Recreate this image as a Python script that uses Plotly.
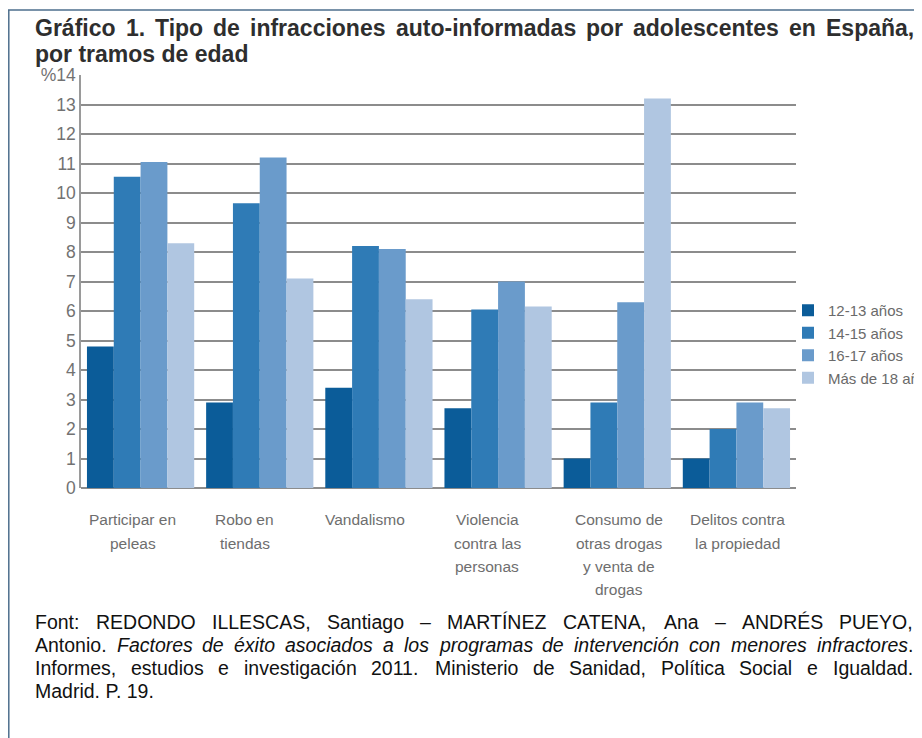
import re
import plotly.graph_objects as go

categories = ["Participar en<br>peleas", "Robo en<br>tiendas", "Vandalismo",
              "Violencia<br>contra las<br>personas",
              "Consumo de<br>otras drogas<br>y venta de<br>drogas",
              "Delitos contra<br>la propiedad"]
series_names = ["12-13 años", "14-15 años", "16-17 años", "Más de 18 años"]
v_12_13 = [4.8, 2.9, 3.4, 2.7, 1.0, 1.0]
v_14_15 = [10.55, 9.65, 8.2, 6.05, 2.9, 2.0]
v_16_17 = [11.05, 11.2, 8.1, 7.0, 6.3, 2.9]
v_18 = [8.3, 7.1, 6.4, 6.15, 13.2, 2.7]
series_values = [v_12_13, v_14_15, v_16_17, v_18]
colors = ["#0b5c99", "#2f7bb6", "#6a9bcb", "#b0c6e1"]
ytick_vals = list(range(0, 15))
ytick_text = [str(v) for v in range(0, 14)] + ["%14"]

title_lines = ["Gráfico 1. Tipo de infracciones auto-informadas por adolescentes en España,",
               "por tramos de edad"]
foot_lines = [
    "Font:  REDONDO ILLESCAS, Santiago – MARTÍNEZ CATENA, Ana – ANDRÉS PUEYO,",
    "Antonio. <i>Factores</i> <i>de</i> <i>éxito</i> <i>asociados</i> <i>a</i> <i>los</i> <i>programas</i> <i>de</i> <i>intervención</i> <i>con</i> <i>menores</i> <i>infractores</i>.",
    "Informes, estudios e investigación 2011. Ministerio de Sanidad, Política Social e Igualdad.",
    "Madrid. P. 19.",
]

# page is shown with an 8px body margin: work in reference pixels, convert
OFF = 8
W, H = 922 - OFF, 738 - OFF
L, R, T, B = 81 - OFF, 796 - OFF, 75 - OFF, 488 - OFF

def px(x):
    return (x - OFF - L) / (R - L)

def py(y):
    return (B - (y - OFF)) / (B - T)

fig = go.Figure()
for name, vals, col in zip(series_names, series_values, colors):
    fig.add_trace(go.Bar(x=categories, y=vals, name=name,
                         marker=dict(color=col, line=dict(width=0))))

fig.update_layout(
    width=W, height=H,
    margin=dict(l=L, r=W - R, t=T, b=H - B, autoexpand=False),
    paper_bgcolor="white", plot_bgcolor="white",
    barmode="group", bargap=0.1, bargroupgap=0,
    font=dict(family="Liberation Sans, Arial, sans-serif", color="#666666"),
    showlegend=True,
    legend=dict(x=px(788), y=py(294), xanchor="left", yanchor="top",
                font=dict(size=15, color="#6a6a6a"), tracegroupgap=0,
                itemwidth=30, bgcolor="rgba(0,0,0,0)"),
)
fig.update_yaxes(range=[0, 14], tickvals=ytick_vals, ticktext=ytick_text,
                 showgrid=True, gridcolor="#8c8c8c", gridwidth=1.5,
                 showline=True, linecolor="#9a9a9a", linewidth=1.5,
                 zeroline=True, zerolinecolor="#8c8c8c", zerolinewidth=1.5,
                 ticks="", ticklabelstandoff=0,
                 tickfont=dict(size=17.5, color="#727272"))
fig.update_xaxes(showgrid=False, showline=False, ticks="", showticklabels=False)

# category labels (one annotation per text line for the original line spacing)
label_xshift = [-8, -15, -14, -11, 2, 1]
for cat, dx in zip(categories, label_xshift):
    for i, part in enumerate(cat.split("<br>")):
        fig.add_annotation(text=part, xref="x", yref="paper", x=cat, y=py(520 + 23 * i),
                           xanchor="center", yanchor="middle", showarrow=False, xshift=dx,
                           font=dict(size=15.5, color="#6e6e6e"))

# Arial / Liberation Sans advance widths (per 1000 em) for justification
AW = {}
AW.update(dict(zip("abcdefghijklmnopqrstuvwxyz",
                   [556, 556, 500, 556, 556, 278, 556, 556, 222, 222, 500, 222, 833,
                    556, 556, 556, 556, 333, 500, 278, 556, 500, 722, 500, 500, 500])))
AW.update(dict(zip("ABCDEFGHIJKLMNOPQRSTUVWXYZ",
                   [667, 667, 722, 722, 667, 611, 778, 722, 278, 500, 667, 556, 833,
                    722, 778, 667, 778, 722, 667, 611, 722, 667, 944, 667, 667, 611])))
AW.update({c: 556 for c in "0123456789"})
AW.update({" ": 278, ",": 278, ".": 278, ":": 278, "–": 556, "-": 333,
           "á": 556, "é": 556, "í": 278, "ó": 556, "ñ": 556, "Í": 278, "É": 667})
BW = {}
BW.update(dict(zip("abcdefghijklmnopqrstuvwxyz",
                   [556, 611, 556, 611, 556, 333, 611, 611, 278, 278, 556, 278, 889,
                    611, 611, 611, 611, 389, 556, 333, 611, 556, 778, 556, 556, 500])))
BW.update(dict(zip("ABCDEFGHIJKLMNOPQRSTUVWXYZ",
                   [722, 722, 722, 722, 667, 611, 778, 722, 278, 556, 722, 611, 833,
                    722, 778, 667, 778, 722, 667, 611, 722, 667, 944, 667, 667, 611])))
BW.update({c: 556 for c in "0123456789"})
BW.update({" ": 278, ",": 278, ".": 278, ":": 333, "-": 333,
           "á": 556, "é": 556, "í": 278, "ó": 611, "ñ": 611})

def text_w(s, table, size):
    s = re.sub(r"<[^>]+>", "", s)
    return sum(table.get(c, 556) for c in s) * size / 1000.0

def justify(line, yy, x0, x1, table, size, font, bold=False):
    words = line.split()
    total = sum(text_w(w, table, size) for w in words)
    gap = (x1 - x0 - total) / (len(words) - 1)
    x = x0
    for w in words:
        fig.add_annotation(text=("<b>%s</b>" % w) if bold else w, xref="paper", yref="paper",
                           x=px(x), y=py(yy), xanchor="left", yanchor="middle",
                           showarrow=False, font=font, borderpad=0)
        x += text_w(w, BW if bold else AW, size) + gap

TS = 23
title_font = dict(family="Liberation Sans, Arial, sans-serif", size=TS, color="#2e2e2e")
justify(title_lines[0], 28, 34, 913, BW, TS, title_font, bold=True)
fig.add_annotation(text="<b>" + title_lines[1] + "</b>", xref="paper", yref="paper",
                   x=px(34), y=py(54), xanchor="left", yanchor="middle",
                   showarrow=False, font=title_font, borderpad=0)

FS = 19.5
foot_y = [622, 645, 668, 691]
foot_font = dict(family="Liberation Sans, Arial, sans-serif", size=FS, color="#111111")
for k, (line, yy) in enumerate(zip(foot_lines, foot_y)):
    if k == len(foot_lines) - 1:
        fig.add_annotation(text=line, xref="paper", yref="paper", x=px(34), y=py(yy),
                           xanchor="left", yanchor="middle", showarrow=False,
                           font=foot_font, borderpad=0)
    else:
        justify(line, yy, 34, 912, AW, FS, foot_font)

# frame
fig.add_shape(type="line", xref="paper", yref="paper", x0=px(8), x1=px(922), y0=py(10), y1=py(10),
              line=dict(color="#4d6e8c", width=1.5))
fig.add_shape(type="line", xref="paper", yref="paper", x0=px(8.8), x1=px(8.8), y0=py(10), y1=py(738),
              line=dict(color="#4d6e8c", width=1.5))

fig.write_html("out.html")
